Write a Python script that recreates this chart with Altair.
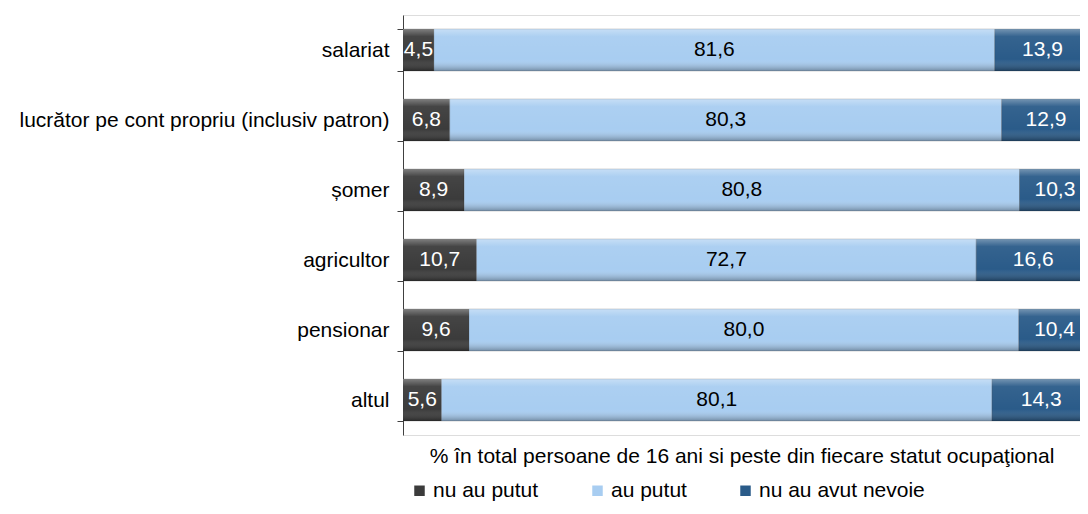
import altair as alt
import pandas as pd

categories = ["salariat", "lucrător pe cont propriu (inclusiv patron)", "șomer",
              "agricultor", "pensionar", "altul"]
series = ["nu au putut", "au putut", "nu au avut nevoie"]
nu_au_putut = [4.5, 6.8, 8.9, 10.7, 9.6, 5.6]
au_putut = [81.6, 80.3, 80.8, 72.7, 80.0, 80.1]
nu_au_avut_nevoie = [13.9, 12.9, 10.3, 16.6, 10.4, 14.3]
colors = ["#3b3b3b", "#a8cdf1", "#2a5b89"]
x_title = "% în total persoane de 16 ani si peste din fiecare statut ocupaţional"

rows = []
for i, c in enumerate(categories):
    for k, (s, vals) in enumerate(zip(series, [nu_au_putut, au_putut, nu_au_avut_nevoie])):
        v = vals[i]
        rows.append({"cat": c, "series": s, "ord": k, "value": v,
                     "label": f"{v:.1f}".replace(".", ",")})
df = pd.DataFrame(rows)

FONT = "Liberation Sans"

base = alt.Chart(df).transform_stack(
    stack="value", groupby=["cat"], as_=["x0", "x1"], sort=[alt.SortField("ord")]
).transform_calculate(mid="(datum.x0 + datum.x1) / 2")

y_enc = alt.Y("cat:N", sort=categories, title=None,
              scale=alt.Scale(paddingInner=0.4, paddingOuter=0.2),
              axis=alt.Axis(labelFont=FONT, labelFontSize=21, labelColor="#000000",
                            domainColor="#404040", tickColor="#404040", tickSize=6,
                            tickBand="extent", labelPadding=8, labelLimit=500))
x_scale = alt.Scale(domain=[0, 98.5], nice=False, zero=True)
x_axis = alt.Axis(labels=False, ticks=False, domain=False, grid=False,
                  title=x_title, titleFont=FONT, titleFontSize=21,
                  titleFontWeight="normal", titleColor="#000000", titlePadding=10)

bars = base.mark_bar(clip=True, stroke="#2a2a2a", strokeWidth=0.5, strokeOpacity=0.4).encode(
    x=alt.X("x0:Q", scale=x_scale, axis=x_axis),
    x2="x1:Q",
    y=y_enc,
    color=alt.Color("series:N", sort=series,
                    scale=alt.Scale(domain=series, range=colors),
                    legend=alt.Legend(title=None, orient="none", direction="horizontal",
                                      legendX=6, legendY=465, labelFont=FONT,
                                      labelFontSize=21, labelColor="#000000",
                                      labelLimit=400,
                                      symbolType="square", symbolSize=110,
                                      symbolStrokeWidth=0, columnPadding=48,
                                      labelOffset=3)),
)

shade = base.mark_bar(clip=True, fill=alt.Gradient(
    gradient="linear", x1=0, y1=0, x2=0, y2=1,
    stops=[alt.GradientStop(color="rgba(255,255,255,0.35)", offset=0),
           alt.GradientStop(color="rgba(255,255,255,0.05)", offset=0.18),
           alt.GradientStop(color="rgba(255,255,255,0.0)", offset=0.72),
           alt.GradientStop(color="rgba(0,0,0,0.32)", offset=1)])).encode(
    x=alt.X("x0:Q", scale=x_scale),
    x2="x1:Q",
    y=alt.Y("cat:N", sort=categories),
)

text = base.mark_text(font=FONT, fontSize=21, baseline="middle", align="center").encode(
    x=alt.X("mid:Q", scale=x_scale),
    y=alt.Y("cat:N", sort=categories),
    text="label:N",
    color=alt.condition(alt.datum.series == "au putut", alt.value("#000000"),
                        alt.value("#ffffff")),
)

chart = alt.layer(bars, shade, text).properties(
    width=677, height=420,
    padding={"left": 395, "top": 7, "right": 0, "bottom": 71},
    autosize=alt.AutoSizeParams(type="none"),
).configure_view(stroke=None).configure(background="#ffffff")

chart.save("out.html", embed_options={"renderer": "svg", "actions": False})
